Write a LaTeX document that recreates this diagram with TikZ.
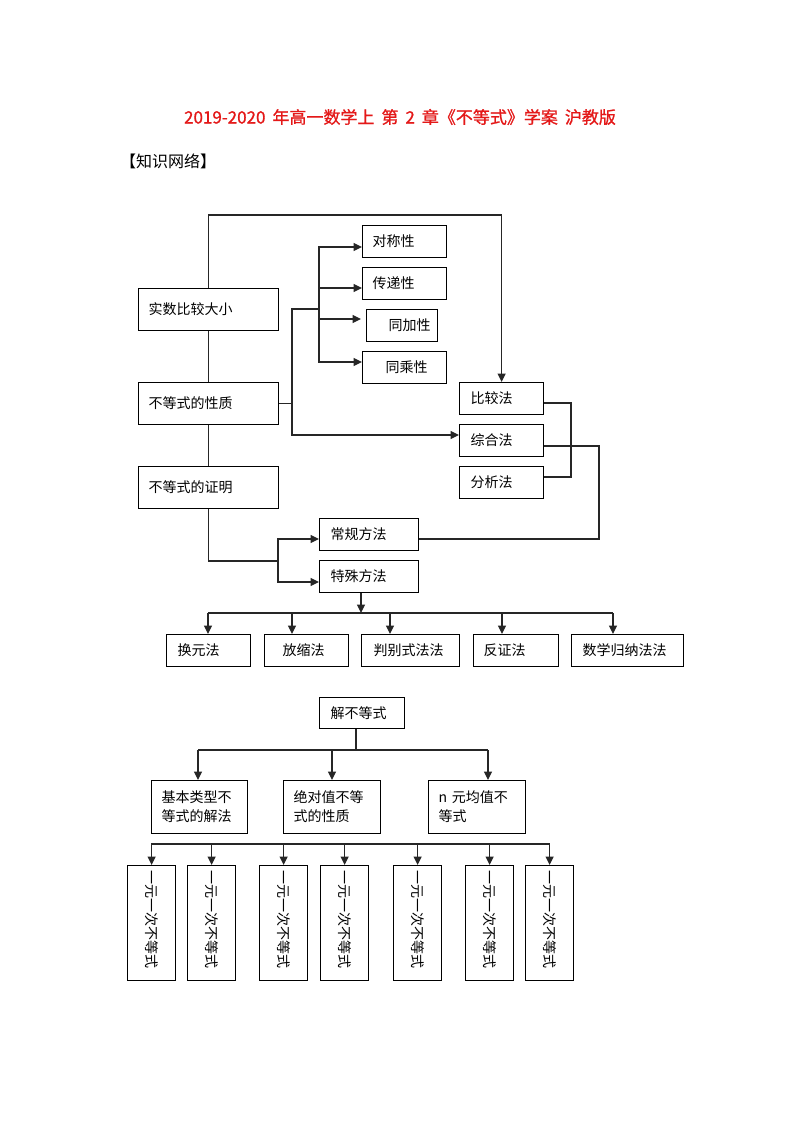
\documentclass[tikz,border=0pt]{standalone}
\usepackage{fontspec}
\usepackage{graphicx}
\setmainfont{Noto Sans CJK SC}
\usetikzlibrary{arrows.meta}
\newcommand\pd[1]{\hspace*{#1pt}}
\newcommand\tsp{\hspace{7pt}}
\definecolor{titlered}{RGB}{228,24,24}
\begin{document}
\begin{tikzpicture}[x=1pt,y=-1pt,
  bx/.style={draw=black, line width=1.2pt, anchor=north west, inner xsep=0pt, inner ysep=0pt, align=left, font=\fontsize{14}{19}\selectfont},
  vb/.style={draw=black, line width=1.2pt, anchor=north west, inner sep=0pt, minimum width=48pt, minimum height=115pt, font=\fontsize{14}{19}\selectfont},
  ln/.style={draw=black!85, line width=1.2pt},
  arr/.style={ln, -{Triangle[length=8.5pt,width=8pt]}},
]
\useasboundingbox (0,0) rectangle (800,1132);
\fill[white] (0,0) rectangle (800,1132);

% title
\node[font=\fontsize{17}{17}\selectfont\addfontfeature{FakeBold=1}, text=titlered, inner sep=0pt] (title) at (400,117) {2019-2020\tsp 年高一数学上\tsp 第\tsp 2\tsp 章《不等式》学案\tsp 沪教版};
\node[font=\fontsize{16}{16}\selectfont, anchor=west, inner sep=0pt] (net) at (120,161) {【知识网络】};

% left column
\node[bx, text width=140pt, minimum height=42pt] (a) at (138,288) {\pd{10}实数比较大小};
\node[bx, text width=140pt, minimum height=42pt] (b) at (138,382) {\pd{10}不等式的性质};
\node[bx, text width=140pt, minimum height=42pt] (c) at (138,466) {\pd{10}不等式的证明};

% properties
\node[bx, text width=84pt, minimum height=32pt] (p1) at (362,225) {\pd{10}对称性};
\node[bx, text width=84pt, minimum height=32pt] (p2) at (362,267) {\pd{10}传递性};
\node[bx, text width=71pt, minimum height=32pt] (p3) at (366,309) {\pd{22}同加性};
\node[bx, text width=84pt, minimum height=32pt] (p4) at (362,351) {\pd{23}同乘性};

% methods
\node[bx, text width=84pt, minimum height=32pt] (bj) at (459,382) {\pd{11}比较法};
\node[bx, text width=84pt, minimum height=32pt] (zh) at (459,424) {\pd{11}综合法};
\node[bx, text width=84pt, minimum height=32pt] (fx) at (459,466) {\pd{11}分析法};
\node[bx, text width=99pt, minimum height=32pt] (cg) at (319,518) {\pd{11}常规方法};
\node[bx, text width=99pt, minimum height=32pt] (ts) at (319,560) {\pd{11}特殊方法};

% special methods
\node[bx, text width=84pt, minimum height=32pt] (m1) at (166,634) {\pd{11}换元法};
\node[bx, text width=84pt, minimum height=32pt] (m2) at (264,634) {\pd{18}放缩法};
\node[bx, text width=98pt, minimum height=32pt] (m3) at (361,634) {\pd{12}判别式法法};
\node[bx, text width=85pt, minimum height=32pt] (m4) at (473,634) {\pd{10}反证法};
\node[bx, text width=112pt, minimum height=32pt] (m5) at (571,634) {\pd{11}数学归纳法法};

% connectors top part
\draw[arr] (a.north) -- (a.north |- 0,215) -| (bj.north);
\draw[ln] (a.south) -- (b.north);
\draw[ln] (b.south) -- (c.north);
\draw[arr] (b.east) -| (292,435) -- (zh.west |- 0,435);
\draw[ln] (292,403) |- (319,309);
\draw[arr] (319,309) |- (p1.west |- 0,247);
\draw[arr] (319,309) |- (p2.west |- 0,288);
\draw[arr] (319,309) |- ([xshift=-5pt]p3.west |- 0,319);
\draw[arr] (319,309) |- (p4.west |- 0,362);
\draw[ln] (bj.east |- 0,403) -| (571,477) -- (fx.east |- 0,477);
\draw[ln] (zh.east |- 0,446) -| (599,539) -- (cg.east |- 0,539);
\draw[ln] (c.south) |- (278,561);
\draw[arr] (278,561) |- (cg.west |- 0,539);
\draw[arr] (278,561) |- (ts.west |- 0,582);
\draw[arr] (ts.south -| 361,0) -- (361,613);
\draw[ln] (208,613) -- (613,613);
\draw[arr] (208,613) -- (m1.north -| 208,0);
\draw[arr] (292,613) -- (m2.north -| 292,0);
\draw[arr] (390,613) -- (m3.north -| 390,0);
\draw[arr] (502,613) -- (m4.north -| 502,0);
\draw[arr] (613,613) -- (m5.north -| 613,0);

% second diagram
\node[bx, text width=85pt, minimum height=31pt] (jb) at (319,697) {\pd{11}解不等式};
\node[bx, text width=96pt, minimum height=53pt] (q1) at (151,780) {\pd{10}基本类型不\\\pd{10}等式的解法};
\node[bx, text width=97pt, minimum height=53pt] (q2) at (283,780) {\pd{10}绝对值不等\\\pd{10}式的性质};
\node[bx, text width=97pt, minimum height=53pt] (q3) at (428,780) {\pd{10}n 元均值不\\\pd{10}等式};
\draw[ln] (jb.south -| 356,0) -- (356,750);
\draw[ln] (198,750) -- (488,750);
\draw[arr] (198,750) -- (q1.north -| 198,0);
\draw[arr] (332,750) -- (q2.north -| 332,0);
\draw[arr] (488,750) -- (q3.north -| 488,0);

\foreach \i/\x in {1/127,2/187,3/259,4/320,5/393,6/465,7/525}{
  \node[vb] (v\i) at (\x,865) {\rotatebox{-90}{一元一次不等式\hspace{8pt}}};
}
\draw[ln] (151,844) -- (550,844);
\foreach \i in {1,...,7}{
  \draw[arr] (v\i.north |- 0,844) -- (v\i.north);
}
\end{tikzpicture}
\end{document}
